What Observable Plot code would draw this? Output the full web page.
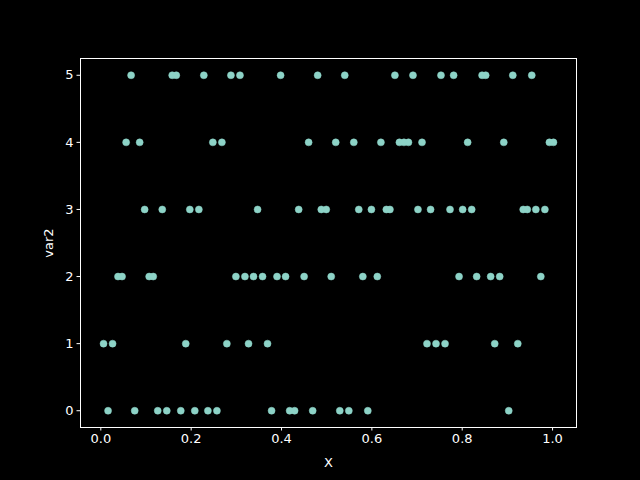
<!DOCTYPE html>
<html>
<head>
<meta charset="utf-8">
<script src="https://cdn.jsdelivr.net/npm/d3@7"></script>
<script src="https://cdn.jsdelivr.net/npm/@observablehq/plot@0.6"></script>
<style>
html,body{margin:0;padding:0;background:#000;}
</style>
</head>
<body>
<div id="chart"></div>
<script>
const xTicks = [0, 0.2, 0.4, 0.6, 0.8, 1.0];
const yTicks = [0, 1, 2, 3, 4, 5];
const xVar0 = [0.016, 0.075, 0.126, 0.146, 0.177, 0.208, 0.237, 0.257, 0.378, 0.418, 0.429, 0.469, 0.529, 0.549, 0.591, 0.903];
const xVar1 = [0.006, 0.026, 0.188, 0.279, 0.327, 0.369, 0.722, 0.742, 0.762, 0.872, 0.923];
const xVar2 = [0.038, 0.047, 0.107, 0.116, 0.299, 0.319, 0.338, 0.358, 0.390, 0.409, 0.450, 0.510, 0.580, 0.612, 0.793, 0.832, 0.863, 0.883, 0.974];
const xVar3 = [0.097, 0.136, 0.197, 0.217, 0.347, 0.438, 0.488, 0.499, 0.571, 0.599, 0.632, 0.640, 0.702, 0.730, 0.773, 0.801, 0.821, 0.935, 0.944, 0.963, 0.983];
const xVar4 = [0.056, 0.086, 0.248, 0.268, 0.460, 0.520, 0.560, 0.620, 0.661, 0.671, 0.681, 0.711, 0.812, 0.892, 0.993, 1.002];
const xVar5 = [0.067, 0.158, 0.167, 0.228, 0.288, 0.308, 0.398, 0.480, 0.540, 0.651, 0.691, 0.753, 0.781, 0.844, 0.852, 0.912, 0.954];

const rows = [xVar0, xVar1, xVar2, xVar3, xVar4, xVar5];
const data = rows.flatMap((xs, v) => xs.map(x => ({X: x, var2: v})));

const chart = Plot.plot({
  width: 640,
  height: 480,
  marginLeft: 80,
  marginRight: 64,
  marginTop: 58,
  marginBottom: 53,
  style: {background: "#000", color: "#fff", fontFamily: "DejaVu Sans", fontSize: "13px"},
  x: {domain: [-0.045, 1.053], label: null},
  y: {domain: [-0.25, 5.25], label: null},
  marks: [
    Plot.frame({stroke: "#fff", strokeWidth: 1}),
    Plot.dot(data, {x: "X", y: "var2", r: 3.5, fill: "#8dd3c7", stroke: "#8dd3c7", strokeWidth: 0.5}),
    Plot.axisX({ticks: xTicks, tickFormat: d3.format(".1f"), tickSize: 3.5, tickPadding: 3, label: null, stroke: "#fff", fill: "#fff"}),
    Plot.axisY({ticks: yTicks, tickFormat: d3.format("d"), tickSize: 3.5, tickPadding: 3.5, label: null, stroke: "#fff", fill: "#fff"}),
    Plot.text(["X"], {frameAnchor: "bottom", dy: 35, fill: "#fff", fontSize: 13, lineAnchor: "middle"}),
    Plot.text(["var2"], {frameAnchor: "left", dx: -32, rotate: -90, textAnchor: "middle", lineAnchor: "middle", fill: "#fff", fontSize: 13})
  ]
});
document.getElementById("chart").appendChild(chart);
</script>
</body>
</html>
